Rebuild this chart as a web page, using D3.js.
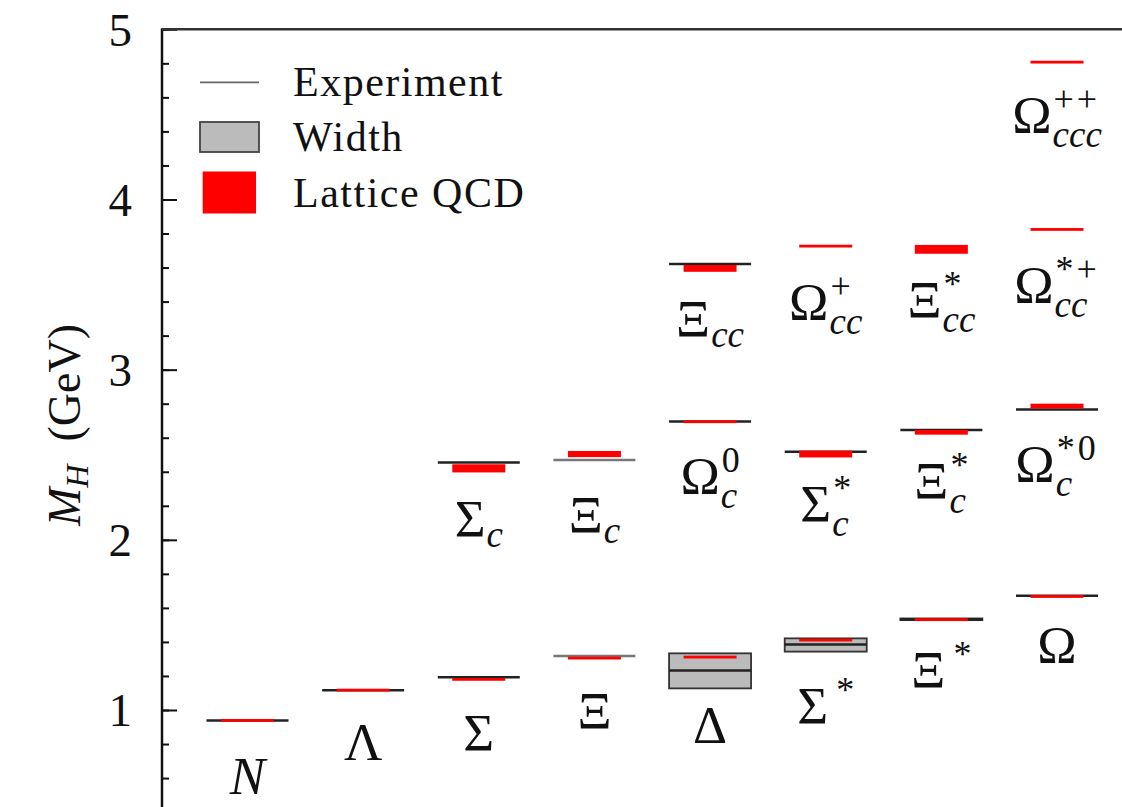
<!DOCTYPE html>
<html>
<head>
<meta charset="utf-8">
<script src="https://cdn.jsdelivr.net/npm/d3@7"></script>
<style>
  body { margin: 0; background: #fff; }
  svg { display: block; }
</style>
</head>
<body>
<svg id="fig"></svg>
<script>
// baryon spectrum: experiment vs lattice QCD
const hadrons  = ["N", "Λ", "Σ", "Ξ", "Δ", "Σ*", "Ξ*", "Ω",
                  "Σc", "Ξc", "Ωc0", "Σc*", "Ξc*", "Ωc*0",
                  "Ξcc", "Ωcc+", "Ξcc*", "Ωcc*+", "Ωccc++"];
const massColumn = [0, 1, 2, 3, 4, 5, 6, 7,
                    2, 3, 4, 5, 6, 7,
                    4, 5, 6, 7, 7];
const expMass  = [0.939, 1.116, 1.193, 1.318, 1.232, 1.385, 1.533, 1.672,
                  2.454, 2.469, 2.695, 2.518, 2.646, 2.766,
                  3.621, null, null, null, null];
const widthLow  = [null, null, null, null, 1.127, 1.343, 1.528, null,
                   null, null, null, null, null, null, null, null, null, null, null];
const widthHigh = [null, null, null, null, 1.333, 1.421, 1.538, null,
                   null, null, null, null, null, null, null, null, null, null, null];
const latMass  = [0.939, 1.117, 1.180, 1.305, 1.311, 1.411, 1.531, 1.667,
                  2.420, 2.504, 2.694, 2.504, 2.632, 2.786,
                  3.595, 3.726, 3.707, 3.824, 4.807];
const latErr   = [0.004, 0.004, 0.005, 0.005, 0.007, 0.007, 0.006, 0.005,
                  0.024, 0.018, 0.006, 0.020, 0.014, 0.014,
                  0.020, 0.006, 0.026, 0.006, 0.006];
// label text pieces and where the label baseline sits (GeV)
const labelMain = ["N", "Λ", "Σ", "Ξ", "Δ", "Σ", "Ξ", "Ω",
                   "Σ", "Ξ", "Ω", "Σ", "Ξ", "Ω",
                   "Ξ", "Ω", "Ξ", "Ω", "Ω"];
const labelSub  = ["", "", "", "", "", "", "", "",
                   "c", "c", "c", "c", "c", "c",
                   "cc", "cc", "cc", "cc", "ccc"];
const labelSup  = ["", "", "", "", "", "*", "*", "",
                   "", "", "0", "*", "*", "*0",
                   "", "+", "*", "*+", "++"];
const labelAt   = [0.506, 0.706, 0.759, 0.888, 0.805, 0.918, 1.129, 1.276,
                   2.016, 2.040, 2.269, 2.105, 2.240, 2.340,
                   3.190, 3.291, 3.303, 3.391, 4.390];
const massTicks = [1, 2, 3, 4, 5];
const legendNames = ["Experiment", "Width", "Lattice QCD"];

function drawSpectrum() {
    const W = 1122;
    const H = 807;
    const lightLines = ["Ξ", "Ξc"];

    // font goes on the root svg only; every text inherits it
    const svg = d3.select('#fig')
        .attr('width', W)
        .attr('height', H)
        .attr('font-family', 'Liberation Serif')
        .attr('fill', '#111');

    const xs = d3.scaleLinear().domain([0, 7]).range([247.5, 1057]);
    const ys = d3.scaleLinear().domain([1, 5]).range([710, 29.3]);

    const axisX = 162;

    // y axis: minor ticks, then major ticks with labels
    const minor = d3.range(0, 5.001, 0.2);
    svg.append('g')
        .attr('transform', `translate(${axisX},0)`)
        .call(d3.axisLeft(ys).tickValues(minor).tickSize(-7).tickSizeOuter(0).tickFormat(''))
        .call(g => g.select('.domain').remove())
        .call(g => g.selectAll('line').attr('stroke', '#111').attr('stroke-width', 2));

    svg.append('g')
        .attr('transform', `translate(${axisX},0)`)
        .call(d3.axisLeft(ys).tickValues(massTicks).tickSize(-15).tickSizeOuter(0).tickPadding(30).tickFormat(d3.format('d')))
        .call(g => g.attr('font-family', null).attr('font-size', 47).attr('fill', null))
        .call(g => g.select('.domain').remove())
        .call(g => g.selectAll('line').attr('stroke', '#111').attr('stroke-width', 2))
        .call(g => g.selectAll('text').attr('fill', '#111').attr('dy', '0.34em'));

    svg.append('line')
        .attr('x1', axisX).attr('x2', axisX)
        .attr('y1', ys(5) - 1).attr('y2', ys(0))
        .attr('stroke', '#111').attr('stroke-width', 2.5);

    svg.append('line')
        .attr('x1', axisX).attr('x2', W)
        .attr('y1', ys(5)).attr('y2', ys(5))
        .attr('stroke', '#333').attr('stroke-width', 2.5);

    // axis title
    const axisTitle = svg.append('text')
        .attr('transform', `translate(80,425) rotate(-90)`)
        .attr('text-anchor', 'middle')
        .attr('font-size', 46);
    axisTitle.append('tspan').attr('font-style', 'italic').text('M');
    axisTitle.append('tspan').attr('font-style', 'italic').attr('font-size', 32).attr('dy', 8).text('H');
    axisTitle.append('tspan').attr('dy', -8).text('\u00a0\u00a0(GeV)');

    const rows = hadrons.map((name, i) => ({
        name: name, col: massColumn[i], exp: expMass[i],
        lo: widthLow[i], hi: widthHigh[i],
        lat: latMass[i], err: latErr[i],
        main: labelMain[i], sub: labelSub[i], sup: labelSup[i], at: labelAt[i]
    }));

    const halfLine = 41;
    const halfRed = 26.5;

    // width boxes
    svg.selectAll('rect.width')
        .data(rows.filter(d => d.lo !== null))
        .enter()
        .append('rect')
        .attr('class', 'width')
        .attr('x', d => xs(d.col) - halfLine)
        .attr('width', halfLine * 2)
        .attr('y', d => ys(d.hi))
        .attr('height', d => ys(d.lo) - ys(d.hi))
        .attr('fill', '#bbb')
        .attr('stroke', '#333')
        .attr('stroke-width', 1.8);

    // experimental levels
    svg.selectAll('line.exp')
        .data(rows.filter(d => d.exp !== null))
        .enter()
        .append('line')
        .attr('class', 'exp')
        .attr('x1', d => xs(d.col) - halfLine)
        .attr('x2', d => xs(d.col) + halfLine)
        .attr('y1', d => ys(d.exp))
        .attr('y2', d => ys(d.exp))
        .attr('stroke', d => lightLines.includes(d.name) ? '#777' : '#222')
        .attr('stroke-width', 2.5);

    // lattice results
    svg.selectAll('rect.lat')
        .data(rows)
        .enter()
        .append('rect')
        .attr('class', 'lat')
        .attr('x', d => xs(d.col) - halfRed)
        .attr('width', halfRed * 2)
        .attr('y', d => Math.min(ys(d.lat + d.err), ys(d.lat) - 1.4))
        .attr('height', d => Math.max(ys(d.lat - d.err) - ys(d.lat + d.err), 2.8))
        .attr('fill', '#ff0000');

    // labels: one text each, script parts as tspans
    svg.selectAll('text.label')
        .data(rows)
        .enter()
        .append('text')
        .attr('class', 'label')
        .attr('font-size', 53)
        .each(function(d) {
            const t = d3.select(this);
            const main = t.append('tspan')
                .attr('font-style', d.main === 'N' ? 'italic' : null)
                .text(d.main);
            const w = main.node().getComputedTextLength();
            let supW = 0, subW = 0;
            if (d.sup) {
                const gap = d.sub ? 2 : 8;
                const s = t.append('tspan')
                    .attr('dx', gap)
                    .attr('dy', -22)
                    .attr('font-size', 36)
                    .attr('letter-spacing', d.sup.length > 1 ? 3 : null)
                    .text(d.sup);
                supW = s.node().getComputedTextLength() + gap;
            }
            if (d.sub) {
                const s = t.append('tspan')
                    .attr('dx', d.sup ? -(supW - 1) : 1)
                    .attr('dy', d.sup ? 36 : 10)
                    .attr('font-size', 37)
                    .attr('font-style', 'italic')
                    .text(d.sub);
                subW = s.node().getComputedTextLength() + 1;
            }
            t.attr('x', xs(d.col) - (w + Math.max(supW, subW)) / 2)
             .attr('y', ys(d.at));
        });

    // legend
    const legend = svg.append('g').attr('transform', 'translate(200,0)');
    const legendY = [82.3, 137, 192.5];

    legend.append('line')
        .attr('x1', 0).attr('x2', 59)
        .attr('y1', legendY[0]).attr('y2', legendY[0])
        .attr('stroke', '#666').attr('stroke-width', 1.8);

    legend.append('rect')
        .attr('x', 0).attr('width', 59)
        .attr('y', legendY[1] - 15).attr('height', 30)
        .attr('fill', '#bbb').attr('stroke', '#444').attr('stroke-width', 1.8);

    legend.append('rect')
        .attr('x', 2.7).attr('width', 53.3)
        .attr('y', legendY[2] - 21).attr('height', 42)
        .attr('fill', '#ff0000');

    legend.selectAll('text')
        .data(legendNames)
        .enter()
        .append('text')
        .attr('x', 93)
        .attr('y', (d, i) => legendY[i] + 14)
        .attr('font-size', 42)
        .attr('letter-spacing', 1.5)
        .text(d => d);
}

drawSpectrum();
</script>
</body>
</html>
